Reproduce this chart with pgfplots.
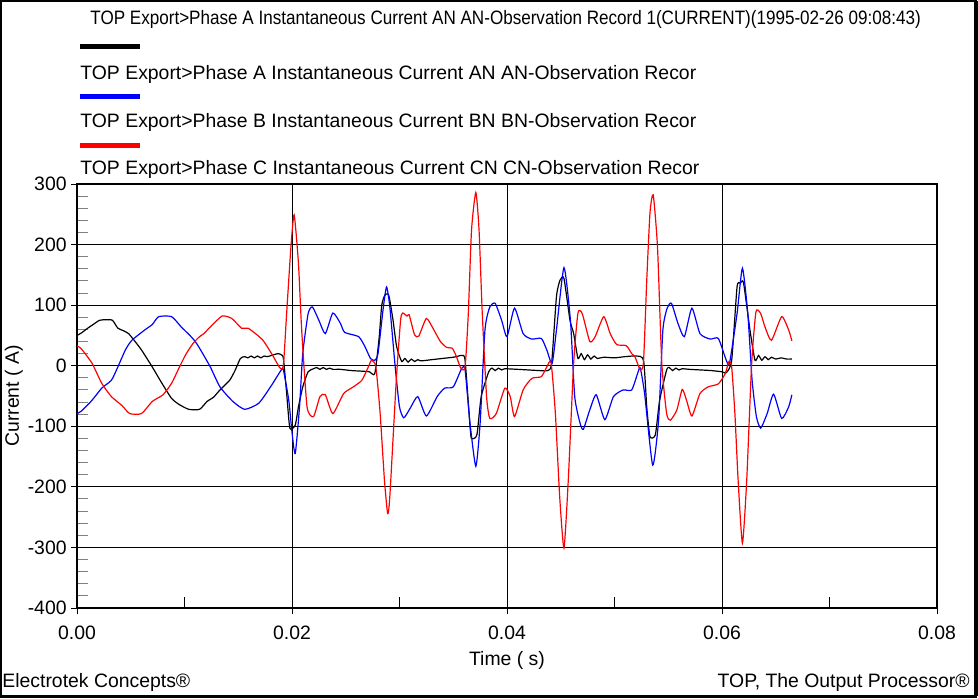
\documentclass[border=0pt]{standalone}
\usepackage{fontspec}
\setmainfont{Liberation Sans}
\usepackage{pgfplots}
\pgfplotsset{compat=1.18}
\usepackage{graphicx}

% phase A (black), t in s, current in A
\pgfplotstableread{
t v
0.0000 50
0.0004 54
0.0010 62
0.0015 68
0.0021 75
0.0027 76
0.0033 75
0.0038 62
0.0043 58
0.0048 53
0.0054 40
0.0060 26
0.0070 -2
0.0079 -29
0.0088 -54
0.0095 -64
0.0104 -72
0.0114 -72
0.0121 -59
0.0127 -52
0.0133 -40
0.0142 -24
0.0147 -8
0.0152 12
0.0156 15
0.0159 13
0.0162 16
0.0165 13
0.0168 16
0.0171 13
0.0174 16
0.0177 15
0.0181 17
0.0187 20
0.0190 18
0.0192 12
0.0195 -45
0.0198 -103
0.0203 -98
0.0206 -68
0.0210 -35
0.0215 -10
0.0220 -5
0.0223 -3
0.0226 -6
0.0229 -3
0.0232 -6
0.0235 -4
0.0238 -6
0.0245 -6
0.0255 -8
0.0265 -9
0.0272 -10
0.0277 -13
0.0281 45
0.02835 100
0.02865 117
0.02896 118
0.0291 108
0.0294 75
0.02974 31
0.0302 7
0.0305 12
0.0308 6
0.0311 11
0.0314 7
0.0317 10
0.0320 8
0.0330 10
0.0340 12
0.0350 14
0.0353 15
0.0358 17
0.0361 9
0.03656 -100
0.0367 -120
0.0372 -114
0.0376 -51
0.0383 -10
0.0386 -4
0.0389 -8
0.0392 -4
0.0395 -7
0.0398 -5
0.0410 -6
0.0420 -7
0.0430 -8
0.0438 -8
0.04415 4
0.0446 114
0.04493 141
0.0453 144
0.04586 75
0.0462 53
0.0466 12
0.0469 20
0.0472 10
0.0475 18
0.0478 11
0.0481 16
0.0484 12
0.0490 14
0.0500 13
0.0510 15
0.0520 16
0.0527 9
0.0530 -68
0.0533 -117
0.0538 -114
0.0542 -57
0.05485 -7
0.0551 -3
0.0554 -8
0.0557 -4
0.0560 -7
0.0563 -5
0.0570 -6
0.0580 -7
0.0590 -8
0.0600 -10
0.0604 -11.5
0.0609 9
0.0614 130
0.0617 136
0.0620 137
0.0626 59
0.06307 9
0.0634 17
0.0637 9
0.0640 15
0.0643 10
0.0646 14
0.0650 11
0.0655 13
0.0660 11
0.0665 11
}\phaseA

% phase B (blue)
\pgfplotstableread{
t v
0.0000 -79
0.0004 -75
0.0014 -57
0.0023 -37
0.0032 -24
0.0038 -2
0.0045 26
0.0051 42
0.0063 59
0.0070 68
0.0076 81
0.0088 81
0.0097 64
0.0105 50
0.0110 40
0.0114 29
0.0124 -2
0.0133 -35
0.0145 -59
0.0156 -72
0.0169 -62
0.0180 -35
0.0190 -7
0.0192 -7
0.0197 -57
0.0200 -110
0.0203 -145
0.0207 -68
0.0210 20
0.0215 86
0.0219 97
0.0225 75
0.0231 53
0.0238 87
0.0245 70
0.0249 55
0.0262 48
0.0268 31
0.0273 12
0.0277 9
0.0280 20
0.0285 97
0.0288 130
0.0291 97
0.0296 -2
0.0300 -68
0.0304 -86
0.0310 -70
0.0317 -51
0.0325 -83
0.0335 -51
0.0342 -37
0.0350 -35
0.0358 -4
0.0361 -7
0.03656 -95
0.0371 -166
0.0375 -95
0.03795 59
0.0384 97
0.0389 103
0.0395 75
0.0400 48
0.0407 95
0.0415 53
0.0423 44
0.0432 45
0.0437 26
0.0442 4
0.0446 59
0.0453 162
0.0459 75
0.0463 -51
0.0468 -95
0.0471 -105
0.0477 -73
0.0483 -48
0.0491 -89
0.0499 -51
0.0508 -40
0.0516 -40
0.0522 -10
0.0524 -4
0.0528 -46
0.05355 -164
0.0541 -90
0.0545 59
0.0549 95
0.0553 103
0.0559 70
0.0565 48
0.0572 95
0.05795 53
0.0589 44
0.05966 45
0.0604 9
0.0607 4
0.0614 86
0.0619 161
0.0624 86
0.0628 -24
0.0632 -84
0.0636 -103
0.0642 -79
0.0648 -47
0.06555 -87
0.0662 -68
0.0665 -48
}\phaseB

% phase C (red)
\pgfplotstableread{
t v
0.0000 33
0.0004 28
0.0014 4
0.0023 -29
0.0032 -51
0.0042 -66
0.0049 -79
0.0060 -79
0.0070 -59
0.0080 -48
0.0088 -29
0.0094 -7
0.0101 18
0.0108 37
0.0114 48
0.0118 53
0.0124 64
0.0135 82
0.0144 78
0.0153 62
0.0159 62
0.0166 53
0.0173 42
0.0181 20
0.0189 -4
0.0192 1
0.0195 86
0.0199 196
0.0202 249
0.0206 169
0.0209 59
0.0214 -68
0.0220 -84
0.0226 -51
0.0231 -48
0.0238 -79
0.0248 -46
0.0257 -35
0.0265 -24
0.0271 -2
0.0274 9
0.0278 -2
0.0282 -79
0.0286 -189
0.0289 -244
0.0291 -216
0.0297 -24
0.0301 75
0.0303 87
0.0307 82
0.0309 84
0.0314 51
0.0318 49
0.0325 78
0.0332 59
0.0338 40
0.0344 30
0.0349 29
0.0353 15
0.0357 -4
0.0361 -2
0.0364 86
0.0367 224
0.0371 286
0.0374 224
0.0377 86
0.0381 -51
0.0384 -87
0.0390 -79
0.0398 -37
0.0403 -51
0.0407 -84
0.0415 -40
0.0423 -21
0.0432 -18
0.0437 -2
0.0441 5
0.0445 -79
0.0449 -216
0.0453 -301
0.0457 -189
0.0462 4
0.0466 87
0.0470 86
0.0477 40
0.0482 48
0.0490 81
0.0496 53
0.0502 35
0.0511 33
0.0516 20
0.0519 15
0.0524 -7
0.0527 7
0.0530 141
0.0533 252
0.0536 282
0.0540 196
0.0544 4
0.05485 -79
0.0552 -90
0.0558 -73
0.0563 -39
0.0567 -57
0.0572 -83
0.05795 -46
0.0587 -35
0.05966 -30
0.0603 -13
0.06065 7
0.0609 -2
0.0612 -79
0.0615 -189
0.0619 -293
0.0623 -189
0.06276 4
0.06316 89
0.0636 86
0.0640 64
0.0646 42
0.06555 81
0.0662 59
0.0665 41
}\phaseC

\begin{document}
\begin{tikzpicture}[font=\fontsize{9.7}{11.6}\selectfont]
\useasboundingbox (0,0) rectangle (489pt,349pt);
% outer frame
\draw[line width=1pt] (0.5pt,0.5pt) rectangle (488pt,348.5pt);
\draw[line width=1.6pt] (488pt,0.8pt) -- (488pt,348.5pt);
\draw[line width=1.6pt] (0.5pt,0.8pt) -- (488pt,0.8pt);

% title and legend
\node[anchor=west, inner sep=0pt] at (45pt,339.5pt) {\scalebox{0.88}[1]{TOP Export>Phase A Instantaneous Current AN AN-Observation Record 1(CURRENT)(1995-02-26 09:08:43)}};
\draw[black, line width=2.5pt] (40pt,325.5pt) -- (70pt,325.5pt);
\node[anchor=west, inner sep=0pt] at (40pt,312pt) {TOP Export>Phase A Instantaneous Current AN AN-Observation Recor};
\draw[blue, line width=2.5pt] (40pt,300.8pt) -- (70pt,300.8pt);
\node[anchor=west, inner sep=0pt] at (40pt,288pt) {TOP Export>Phase B Instantaneous Current BN BN-Observation Recor};
\draw[red, line width=2.5pt] (40pt,276.3pt) -- (70pt,276.3pt);
\node[anchor=west, inner sep=0pt] at (40pt,264.5pt) {TOP Export>Phase C Instantaneous Current CN CN-Observation Recor};

% footer
\node[anchor=west, inner sep=0pt] at (1pt,7.8pt) {Electrotek Concepts®};
\node[anchor=east, inner sep=0pt] at (485pt,7.8pt) {TOP, The Output Processor®};

\begin{axis}[
  at={(38.5pt,45pt)}, anchor=south west,
  scale only axis, width=430pt, height=212pt,
  xmin=0, xmax=0.08, ymin=-400, ymax=300,
  scaled x ticks=false,
  xtick={0,0.02,0.04,0.06,0.08},
  xticklabels={0.00,0.02,0.04,0.06,0.08},
  ytick={-400,-300,-200,-100,0,100,200,300},
  yticklabels={-400,-300,-200,-100,0,100,200,300},
  minor x tick num=1, minor y tick num=4,
  tick pos=left, tick align=outside,
  major tick length=3pt, minor tick length=-5.5pt,
  minor y tick style={gray, line width=0.5pt},
  minor x tick style={black, line width=0.5pt},
  major tick style={black, line width=0.5pt},
  grid=major,
  major grid style={black, line width=0.5pt},
  axis line style={black, line width=0.7pt},
  xticklabel style={inner sep=0pt, anchor=north, yshift=-6pt},
  yticklabel style={inner sep=0pt, anchor=east, xshift=-2pt},
  xlabel={Time ( s)},
  ylabel={Current ( A)},
  xlabel style={at={(axis description cs:0.5,-0.123)}, anchor=center, inner sep=0pt},
  ylabel style={at={(axis description cs:-0.0735,0.5)}, anchor=center, inner sep=0pt},
  every axis plot/.append style={line width=0.6pt, smooth, tension=0.35},
  clip=true,
]
\addplot[black] table[x=t, y=v] {\phaseA};
\addplot[blue] table[x=t, y=v] {\phaseB};
\addplot[red] table[x=t, y=v] {\phaseC};
\end{axis}
\end{tikzpicture}
\end{document}
